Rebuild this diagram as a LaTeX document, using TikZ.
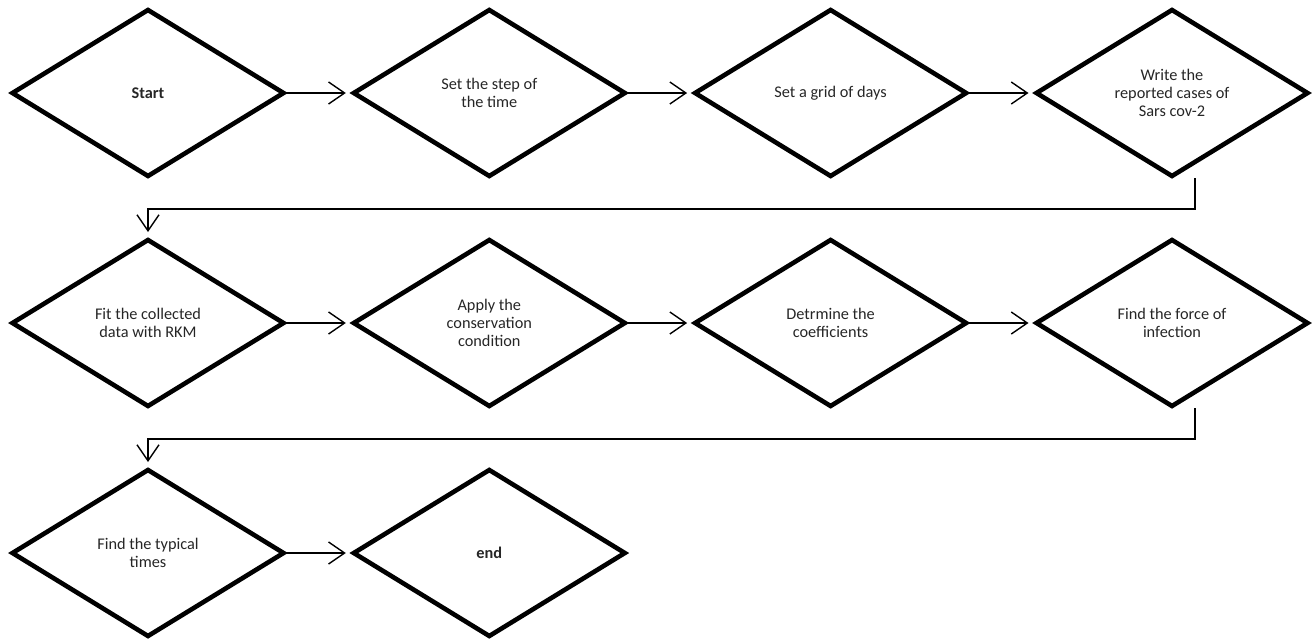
\documentclass[tikz,border=0pt]{standalone}
\usepackage{fontspec}
\setmainfont{Carlito}
\usetikzlibrary{shapes.geometric,arrows.meta,calc}
\tikzset{
  dia/.style={shape=diamond, draw=black, line width=4.6pt, line join=miter,
    minimum width=271pt, minimum height=166pt, inner sep=0pt, outer sep=0pt,
    align=center, font=\fontsize{16.3}{18.3}\selectfont, text=black!85},
  conn/.style={draw=black, line width=1.4pt,
    -{Straight Barb[length=16pt,width=22pt,line width=1.4pt]}, shorten >=8pt},
}
\begin{document}
\begin{tikzpicture}[x=1pt,y=-1pt]
\useasboundingbox (0,0) rectangle (1316,640);
% row 1
\node[dia] (d1) at (148,93) {\textbf{Start}};
\node[dia] (d2) at (489.3,93) {Set the step of\\the time};
\node[dia] (d3) at (830.6,93) {Set a grid of days};
\node[dia] (d4) at (1172,93) {Write the\\reported cases of\\Sars cov-2};
% row 2
\node[dia] (d5) at (148,323) {Fit the collected\\data with RKM};
\node[dia] (d6) at (489.3,323) {Apply the\\conservation\\condition};
\node[dia] (d7) at (830.6,323) {Detrmine the\\coefficients};
\node[dia] (d8) at (1172,323) {Find the force of\\infection};
% row 3
\node[dia] (d9) at (148,553) {Find the typical\\times};
\node[dia] (d10) at (489.3,553) {\textbf{end}};
% horizontal connectors
\draw[conn] (d1.east) -- (d2.west);
\draw[conn] (d2.east) -- (d3.west);
\draw[conn] (d3.east) -- (d4.west);
\draw[conn] (d5.east) -- (d6.west);
\draw[conn] (d6.east) -- (d7.west);
\draw[conn] (d7.east) -- (d8.west);
\draw[conn] (d9.east) -- (d10.west);
% row-change connectors
\coordinate (s1) at ($(d4.south)+(23,2)$);
\coordinate (k1) at ($(s1)+(0,31)$);
\draw[conn] (s1) -- (k1) -- (d5.north |- k1) -- (d5.north);
\coordinate (s2) at ($(d8.south)+(23,2)$);
\coordinate (k2) at ($(s2)+(0,31)$);
\draw[conn] (s2) -- (k2) -- (d9.north |- k2) -- (d9.north);
\end{tikzpicture}
\end{document}
